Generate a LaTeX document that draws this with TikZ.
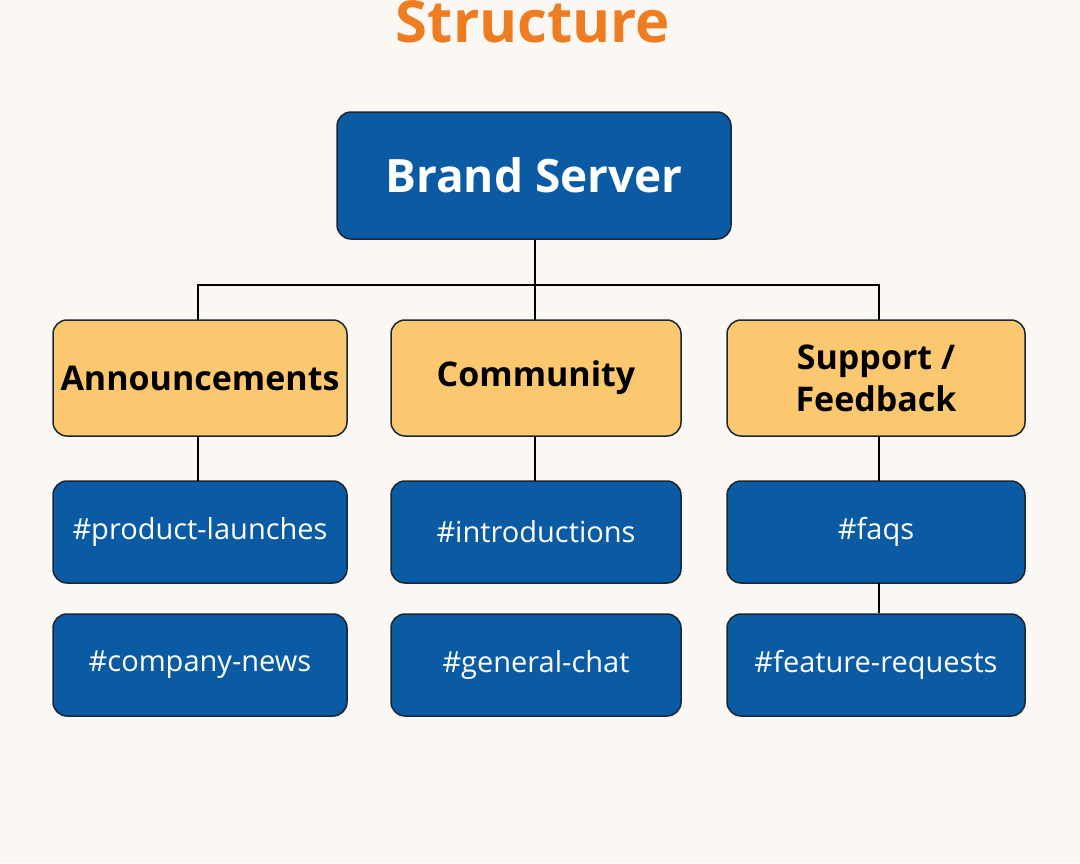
\documentclass[tikz,border=0pt]{standalone}
\usepackage{fontspec}
\setmainfont{Open Sans}
\definecolor{bg}{HTML}{FBF8F3}
\definecolor{blu}{HTML}{0A5BA4}
\definecolor{yel}{HTML}{FBC76F}
\definecolor{org}{HTML}{EE7D22}
\definecolor{edge}{HTML}{1A2633}
\begin{document}
\begin{tikzpicture}[x=1pt,y=-1pt,
 box/.style={draw=edge,line width=1.5pt,rounded corners=14pt,inner sep=0pt,align=center},
 ch/.style={box,fill=blu,text=white,minimum height=102pt,font=\fontsize{29}{34}\selectfont},
 cat/.style={box,fill=yel,text=black,minimum height=116pt,font=\fontsize{34}{42}\selectfont\bfseries},
 ln/.style={draw=black,line width=1.8pt}]
\fill[bg] (0,0) rectangle (1080,863);
\useasboundingbox (0,0) rectangle (1080,863);
\node[text=org,font=\fontsize{58}{60}\selectfont\bfseries] (t) at (533,22) {Structure};
\node[box,fill=blu,text=white,minimum width=394pt,minimum height=127pt,font=\fontsize{46}{52}\selectfont\bfseries] (bs) at (534,175.5) {Brand Server};
\node[cat,minimum width=294pt] (a) at (200,378) {Announcements};
\node[cat,minimum width=290pt] (c) at (536,378) {Community};
\node[cat,minimum width=298pt] (s) at (876,378) {Support /\\Feedback};
\node[ch,minimum width=294pt] (a1) at (200,532) {\#product-launches};
\node[ch,minimum width=294pt] (a2) at (200,665) {\#company-news};
\node[ch,minimum width=290pt] (c1) at (536,532) {\#introductions};
\node[ch,minimum width=290pt] (c2) at (536,665) {\#general-chat};
\node[ch,minimum width=298pt] (s1) at (876,532) {\#faqs};
\node[ch,minimum width=298pt] (s2) at (876,665) {\#feature-requests};
\coordinate (m) at (535,285);
\draw[ln] (bs.south -| m) -- (m);
\draw[ln] (198,320) |- (m) -| (879,320);
\draw[ln] (535,285) -- (535,320);
\draw[ln] (198,436) -- (198,481);
\draw[ln] (535,436) -- (535,481);
\draw[ln] (879,436) -- (879,481);
\draw[ln] (879,583) -- (879,613);
\end{tikzpicture}
\end{document}
